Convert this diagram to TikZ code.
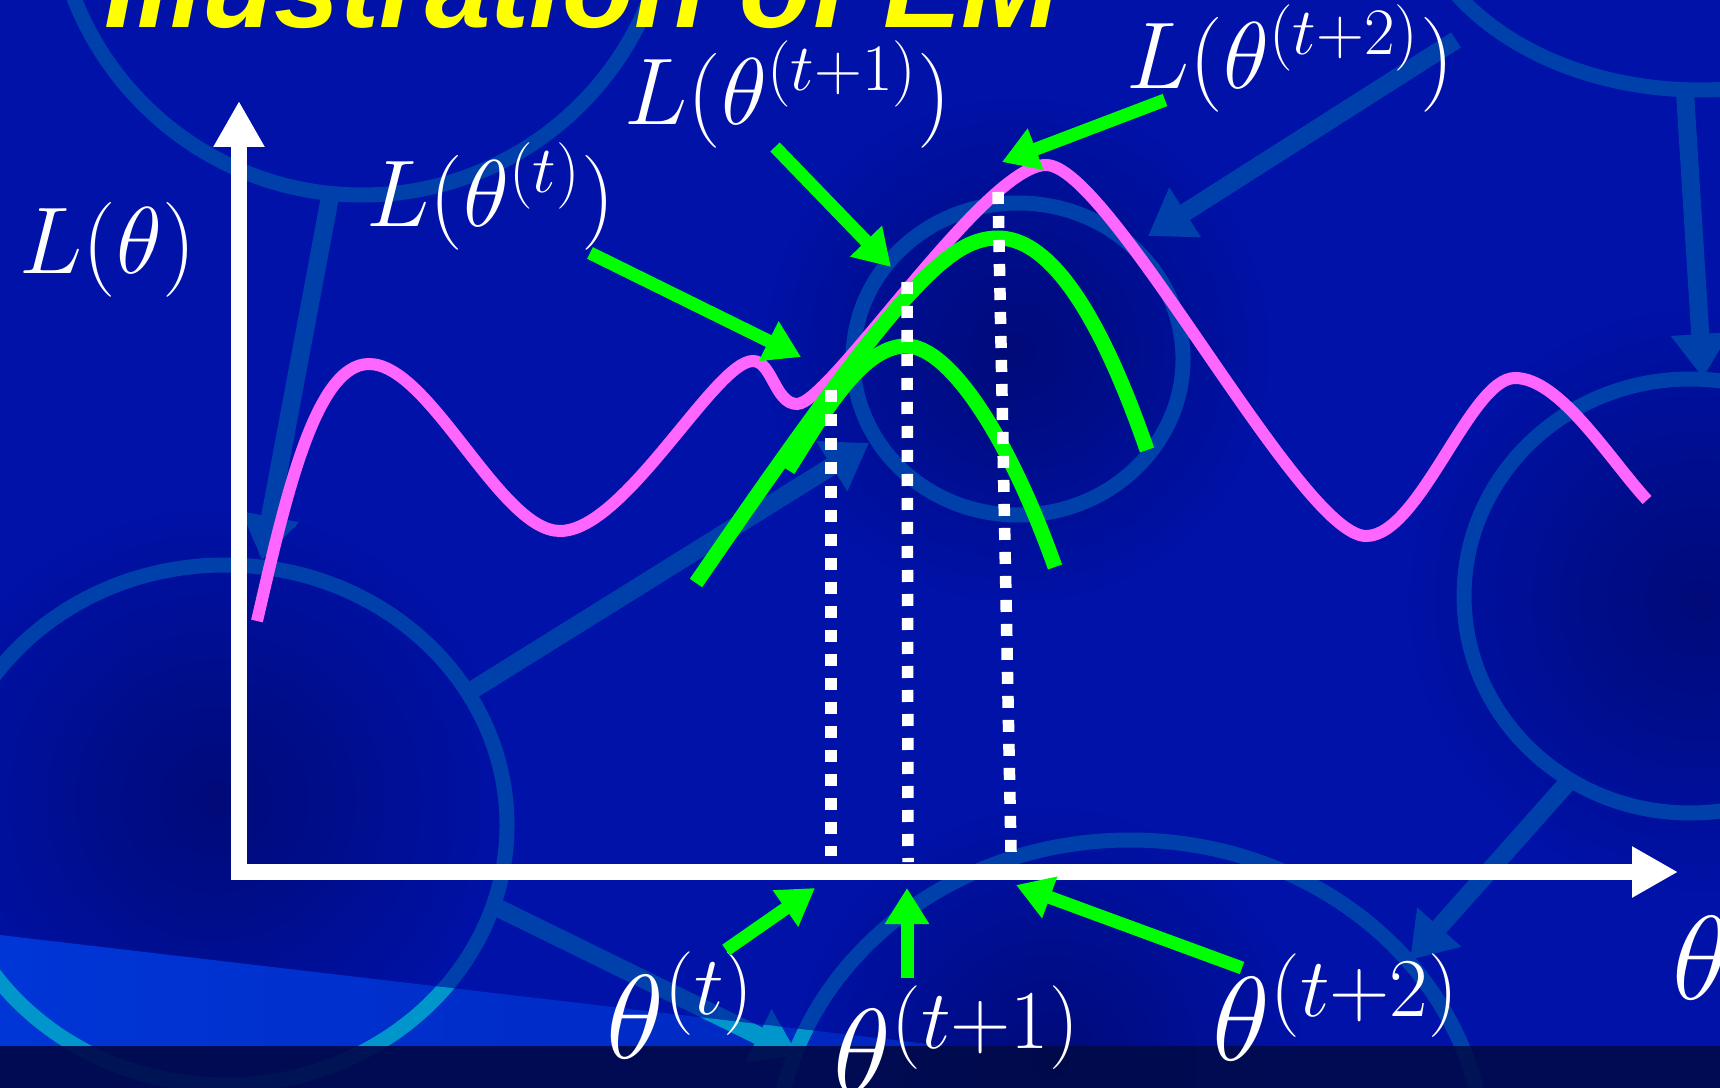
\documentclass[tikz,border=0pt]{standalone}
\usepackage{fix-cm}
\usepackage{fontspec}
\newfontfamily\titlefont{Liberation Sans}
\usepackage{tikz}
\usetikzlibrary{arrows.meta}
\definecolor{SlideBlue}{HTML}{0012A8}
\definecolor{SpotBlue}{HTML}{000A78}
\definecolor{RingBlue}{HTML}{0040AA}
\definecolor{RingCyan}{HTML}{0096CC}
\definecolor{WedgeL}{HTML}{0036D6}
\definecolor{WedgeR}{HTML}{0026BE}
\definecolor{BandNavy}{HTML}{000A40}
\definecolor{LMagenta}{HTML}{FF66FF}
\definecolor{EGreen}{HTML}{00FF00}
\definecolor{TitleYellow}{HTML}{FFFF00}

\begin{document}
\begin{tikzpicture}[x=0.1mm, y=-0.1mm,
  ring/.style={draw=RingBlue, line width=1.5mm},
  link/.style={RingBlue, line width=1.8mm, -{Triangle[length=4.4mm, width=5.6mm]}},
  axis/.style={white, line width=1.6mm, line join=miter,
    {Triangle[length=4.6mm, width=4.8mm]}-{Triangle[length=4.6mm, width=4.8mm]}},
  lcurve/.style={LMagenta, line width=1.2mm},
  bound/.style={EGreen, line width=1.5mm},
  dotline/.style={white, line width=1.15mm, dash pattern=on 1.2mm off 1.2mm},
  garrow/.style={EGreen, line width=1.3mm, -{Triangle[length=3.6mm, width=4.2mm]}},
  llabel/.style={white, anchor=base west, inner sep=0pt, font=\fontsize{27pt}{31pt}\selectfont},
  tlabel/.style={white, anchor=base west, inner sep=0pt, font=\fontsize{34pt}{38pt}\selectfont}]
  \useasboundingbox (0,0) rectangle (1720,1088);
  \clip (0,0) rectangle (1720,1088);

  % slide background
  \fill[SlideBlue] (0,0) rectangle (1720,1088);
  \foreach \cx/\cy/\r in {1017/350/260, 215/800/300, 1700/600/300, 1050/1060/260}
    \shade[inner color=SpotBlue, outer color=SlideBlue] (\cx,\cy) circle (\r);
  \shade[left color=WedgeL, right color=WedgeR] (0,935) -- (945,1046) -- (0,1046) -- cycle;
  \foreach \cx/\cy/\rx/\ry in {362/-114/309/309, 225/825/282/260, 1018/359/165/156,
      1690/596/226/217, 1700/-120/290/210, 1130/1160/355/320}
    \draw[ring] (\cx,\cy) ellipse [x radius=\rx, y radius=\ry];
  \foreach \ax/\ay/\bx/\by in {330/197/262/560, 466/694/869/443, 1456/40/1148/236,
      1685/93/1703/378, 1570/780/1410/960, 488/903/798/1055}
    \draw[link] (\ax,\ay) -- (\bx,\by);
  \begin{scope}
    \clip (0,935) -- (945,1046) -- (0,1046) -- cycle;
    \draw[ring, draw=RingCyan] (225,825) ellipse [x radius=282, y radius=260];
    \draw[ring, draw=RingCyan] (1130,1160) ellipse [x radius=355, y radius=320];
    \draw[link, RingCyan] (488,903) -- (798,1055);
  \end{scope}
  \fill[BandNavy, fill opacity=0.8] (0,1046) rectangle (1720,1088);

  \node[anchor=base west, inner sep=0pt, text=TitleYellow,
    font=\titlefont\fontsize{33.5pt}{36pt}\selectfont\bfseries\itshape] (title) at (104,28) {Illustration of EM};

  % axes
  \coordinate (O) at (239,872);
  \coordinate (ytip) at (239,101);
  \coordinate (xtip) at (1678,872);
  \draw[axis] (ytip) -- (O) -- (xtip);

  % likelihood
  \draw[lcurve] (257,621) .. controls (285,500) and (315,364) .. (369,364)
    .. controls (430,364) and (500,531) .. (560,531)
    .. controls (625,531) and (715,361) .. (753,361)
    .. controls (772,361) and (775,404) .. (797,404)
    .. controls (830,404) and (985,165) .. (1046,165)
    .. controls (1110,165) and (1300,536) .. (1366,536)
    .. controls (1420,536) and (1470,378) .. (1515,378)
    .. controls (1560,378) and (1610,460) .. (1647,500);
  % lower bounds
  \draw[bound] (696,583) .. controls (760,490) and (850,360) .. (906,298)
    .. controls (945,255) and (970,238) .. (998,238)
    .. controls (1045,238) and (1095,300) .. (1147,450);
  \draw[bound] (788,470) .. controls (820,420) and (860,346) .. (906,346)
    .. controls (950,346) and (1010,440) .. (1055,567);

  % from the curve down to the axis
  \coordinate (c0) at (831,390);  \coordinate (a0) at (831,856);
  \coordinate (c1) at (907,282);  \coordinate (a1) at (908,862);
  \coordinate (c2) at (998,192);  \coordinate (a2) at (1011,852);
  \draw[dotline] (c0) -- (a0);
  \draw[dotline] (c1) -- (a1);
  \draw[dotline] (c2) -- (a2);

  % labels
  \node[llabel] (Lth) at (19,274) {$L(\theta)$};
  \node[llabel] (Lt0) at (366,227) {$L(\theta^{(t)})$};
  \node[llabel] (Lt1) at (624,125) {$L(\theta^{(t+1)})$};
  \node[llabel] (Lt2) at (1126,89) {$L(\theta^{(t+2)})$};
  \node[tlabel] (th) at (1672,999) {$\theta$};
  \node[tlabel] (t0) at (606,1058) {$\theta^{(t)}$};
  \node[tlabel] (t1) at (833,1092) {$\theta^{(t+1)}$};
  \node[tlabel] (t2) at (1212,1060) {$\theta^{(t+2)}$};

  % pointers
  \coordinate (p0) at (590,253);   \coordinate (q0) at (801,357);
  \coordinate (p1) at (775,147);   \coordinate (q1) at (891,267);
  \coordinate (p2) at (1165,100);  \coordinate (q2) at (1002,162);
  \coordinate (p3) at (726,950);   \coordinate (q3) at (815,888);
  \coordinate (p4) at (907,978);   \coordinate (q4) at (907,888);
  \coordinate (p5) at (1242,968);  \coordinate (q5) at (1016,885);
  \foreach \i in {0,...,5}
    \draw[garrow] (p\i) -- (q\i);
\end{tikzpicture}
\end{document}
